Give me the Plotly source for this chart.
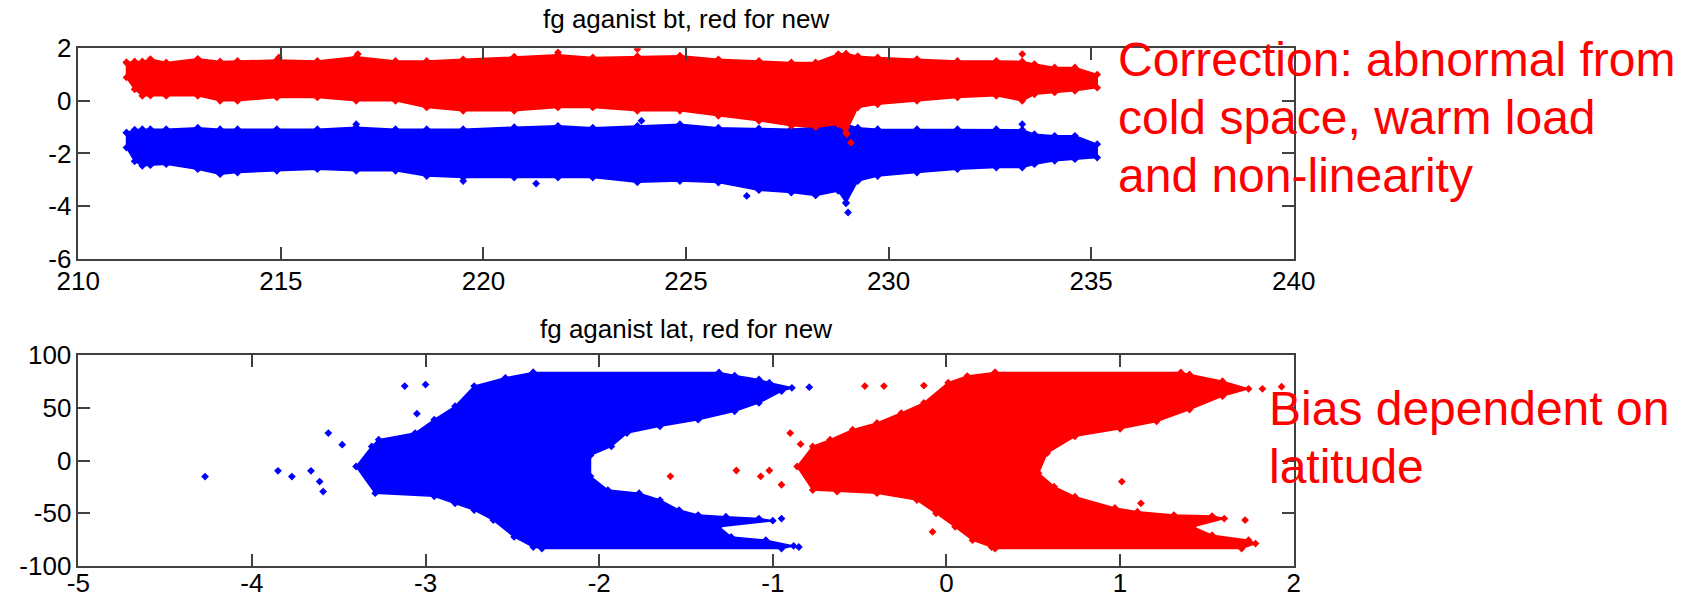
import plotly.graph_objects as go

# ---------------- top panel: fg against bt (envelopes of the point clouds) -------------
bt_x = [211.19, 211.39, 211.58, 211.78, 212.17, 212.95, 213.5, 213.93, 214.9, 215.9,
        216.86, 217.83, 218.6, 219.5, 220.76, 221.84, 222.7, 223.8, 224.85, 225.8,
        226.8, 227.6, 228.2, 228.76, 228.95, 229.24, 229.73, 230.7, 231.7, 232.66,
        233.3, 233.6, 234.1, 234.6, 235.15]
red_bt_top = [1.46, 1.5, 1.5, 1.59, 1.46, 1.6, 1.5, 1.52, 1.55, 1.52,
              1.68, 1.52, 1.52, 1.58, 1.68, 1.75, 1.65, 1.7, 1.72, 1.58,
              1.52, 1.46, 1.46, 1.78, 1.8, 1.7, 1.65, 1.59, 1.52, 1.52,
              1.5, 1.4, 1.27, 1.27, 1.0]
red_bt_bot = [0.89, 0.44, 0.19, 0.2, 0.19, 0.19, 0.0, 0.0, 0.13, 0.13,
              0.0, 0.0, -0.25, -0.38, -0.38, -0.25, -0.25, -0.38, -0.38, -0.57,
              -0.76, -0.95, -1.0, -0.89, -1.2, -0.25, -0.13, 0.0, 0.13, 0.19,
              0.0, 0.25, 0.32, 0.38, 0.5]
blue_bt_top = [-1.21, -1.1, -1.08, -1.08, -1.08, -1.02, -1.08, -1.08, -1.08, -1.08,
               -1.0, -1.08, -1.08, -1.08, -1.0, -0.95, -1.02, -0.95, -0.89, -1.02,
               -1.05, -1.08, -1.0, -0.85, -0.9, -1.02, -1.08, -1.08, -1.08, -1.08,
               -1.1, -1.27, -1.33, -1.33, -1.65]
blue_bt_bot = [-1.78, -2.3, -2.47, -2.45, -2.41, -2.6, -2.79, -2.73, -2.66, -2.6,
               -2.66, -2.66, -2.86, -2.92, -2.92, -2.92, -2.92, -3.1, -3.05, -3.11,
               -3.4, -3.49, -3.6, -3.43, -3.87, -3.05, -2.86, -2.73, -2.6, -2.54,
               -2.54, -2.41, -2.28, -2.22, -2.16]
red_bt_out_x = [223.8, 221.84, 216.9, 233.3, 228.95, 228.97, 229.07, 214.95]
red_bt_out_y = [1.97, 1.84, 1.78, 1.78, -1.02, -1.27, -1.59, 1.65]
blue_bt_out_x = [229.0, 228.95, 226.5, 219.5, 223.9, 216.86, 233.3, 221.3]
blue_bt_out_y = [-4.25, -3.9, -3.62, -3.05, -0.76, -0.89, -0.89, -3.15]

# ---------------- bottom panel: fg against lat --------------------------------------
blue_lat_x = [-2.38, -1.31, -1.22, -1.08, -1.02, -0.89, -0.95, -1.08, -1.22, -1.43,
              -1.65, -1.84, -1.93, -2.05, -2.05, -1.95, -1.77, -1.65, -1.54, -1.43,
              -1.27, -1.08, -1.0, -1.31, -1.24, -1.04, -0.88, -0.95, -2.33, -2.38,
              -2.49, -2.61, -2.72, -2.83, -2.95, -3.29, -3.4, -3.31, -3.27, -3.06,
              -2.95, -2.83, -2.72, -2.54]
blue_lat_y = [83.5, 83.5, 80.5, 76.8, 73.7, 68.9, 65.7, 54.6, 46.7, 38.7,
              32.4, 26.0, 13.3, 5.0, -15.0, -28.0, -31.0, -37.5, -47.0, -51.7,
              -53.3, -55.0, -57.0, -62.9, -72.4, -75.5, -81.0, -83.5, -83.5, -82.0,
              -72.4, -56.5, -47.0, -40.6, -34.0, -31.0, -5.7, 13.3, 19.7, 26.0,
              38.7, 51.4, 70.5, 78.4]
red_lat_x = [0.28, 1.35, 1.40, 1.59, 1.74, 1.59, 1.40, 1.21, 1.0, 0.74,
             0.58, 0.53, 0.62, 0.74, 0.97, 1.10, 1.31, 1.53, 1.6, 1.42,
             1.53, 1.74, 1.78, 1.7, 0.28, 0.26, 0.15, 0.05, -0.06, -0.17,
             -0.4, -0.63, -0.77, -0.86, -0.77, -0.67, -0.54, -0.4, -0.26, -0.13,
             0.01, 0.12]
red_lat_y = [83.5, 83.5, 81.6, 75.2, 67.9, 61.0, 48.3, 37.0, 30.0, 22.9,
             7.0, -12.0, -24.8, -34.3, -45.0, -48.6, -51.7, -52.7, -55.0, -62.9,
             -70.8, -75.6, -78.7, -83.5, -83.5, -82.0, -75.5, -62.9, -50.0, -37.5,
             -31.0, -29.5, -28.0, -5.7, 13.3, 19.7, 29.2, 35.6, 45.0, 54.6,
             73.7, 80.0]
blue_lat_out_x = [-4.27, -3.85, -3.77, -3.66, -3.56, -3.48, -3.61, -3.59, -3.12, -3.0,
                  -3.05, -0.79, -0.85, -0.95]
blue_lat_out_y = [-15.2, -9.8, -15.2, -9.8, 26.0, 15.0, -20.0, -29.5, 70.5, 72.0,
                  44.4, 69.5, -82.0, -55.0]
red_lat_out_x = [-0.9, -1.21, -1.59, -1.07, -1.02, -0.84, -0.47, -0.36, -0.13, -0.08,
                 1.82, 1.93, 1.01, 1.12, 1.72, -0.95]
red_lat_out_y = [26.0, -9.5, -15.0, -15.0, -9.5, 15.5, 70.5, 70.5, 71.0, -67.6,
                 67.9, 70.0, -20.0, -40.6, -56.5, -23.0]

# ---------------- ticks and texts ----------------------------------------------------
bt_ticks = [210, 215, 220, 225, 230, 235, 240]
fg1_ticks = [-6, -4, -2, 0, 2]
fg2_ticks = [-5, -4, -3, -2, -1, 0, 1, 2]
lat_ticks = [-100, -50, 0, 50, 100]

top_title = "fg aganist bt, red for new"
bot_title = "fg aganist lat, red for new"
note1 = ["Correction: abnormal from", "cold space, warm load", "and non-linearity"]
note2 = ["Bias dependent on", "latitude"]

RED = "#FF0000"
BLUE = "#0000FF"
W, H = 1683, 599


def cloud(x, y, color, xa, ya):
    return go.Scatter(x=x + [x[0]], y=y + [y[0]], mode="lines+markers", fill="toself",
                      fillcolor=color, line=dict(color=color, width=1.5),
                      marker=dict(symbol="diamond", size=6, color=color),
                      xaxis=xa, yaxis=ya, showlegend=False, hoverinfo="skip")


def pts(x, y, color, xa, ya):
    return go.Scatter(x=x, y=y, mode="markers",
                      marker=dict(symbol="diamond", size=6, color=color),
                      xaxis=xa, yaxis=ya, showlegend=False, hoverinfo="skip")


fig = go.Figure()
fig.add_trace(cloud(bt_x + bt_x[::-1], blue_bt_top + blue_bt_bot[::-1], BLUE, "x", "y"))
fig.add_trace(pts(blue_bt_out_x, blue_bt_out_y, BLUE, "x", "y"))
fig.add_trace(cloud(bt_x + bt_x[::-1], red_bt_top + red_bt_bot[::-1], RED, "x", "y"))
fig.add_trace(pts(red_bt_out_x, red_bt_out_y, RED, "x", "y"))
fig.add_trace(cloud(blue_lat_x, blue_lat_y, BLUE, "x2", "y2"))
fig.add_trace(pts(blue_lat_out_x, blue_lat_out_y, BLUE, "x2", "y2"))
fig.add_trace(cloud(red_lat_x, red_lat_y, RED, "x2", "y2"))
fig.add_trace(pts(red_lat_out_x, red_lat_out_y, RED, "x2", "y2"))

FONT = "Arial, 'Liberation Sans', sans-serif"
axis_common = dict(showline=True, mirror="ticks", ticks="inside", ticklen=12,
                   linecolor="#404040", linewidth=1.5, tickcolor="#404040", tickwidth=1.5,
                   showgrid=False, zeroline=False, automargin=False,
                   tickfont=dict(family=FONT, size=26, color="black"))


def labels(vals):
    return [str(v) for v in vals]


x0, x1 = 78.3 / W, 1293.7 / W
fig.update_layout(
    template="none",
    width=W, height=H,
    margin=dict(l=0, r=0, t=0, b=0, pad=0),
    paper_bgcolor="white", plot_bgcolor="white",
    font=dict(family=FONT),
    xaxis=dict(domain=[x0, x1], range=[210, 240], tickvals=bt_ticks, ticktext=labels(bt_ticks),
               anchor="y", ticklabelstandoff=-1, **axis_common),
    yaxis=dict(domain=[1 - 258.5 / H, 1 - 48.3 / H], range=[-6, 2], tickvals=fg1_ticks,
               ticktext=labels(fg1_ticks), anchor="x", **axis_common),
    xaxis2=dict(domain=[x0, x1], range=[-5, 2], tickvals=fg2_ticks, ticktext=labels(fg2_ticks),
                anchor="y2", ticklabelstandoff=-7, **axis_common),
    yaxis2=dict(domain=[1 - 566 / H, 1 - 355 / H], range=[-100, 100], tickvals=lat_ticks,
                ticktext=labels(lat_ticks), anchor="x2", **axis_common),
)

ann = []
xc = (x0 + x1) / 2
TS = 26
ann.append(dict(text=top_title, x=xc, y=1 - (28.3 - 0.3465 * TS) / H, xref="paper", yref="paper",
                xanchor="center", yanchor="middle", showarrow=False,
                font=dict(family=FONT, size=TS, color="black")))
ann.append(dict(text=bot_title, x=xc, y=1 - (338.3 - 0.3465 * TS) / H, xref="paper", yref="paper",
                xanchor="center", yanchor="middle", showarrow=False,
                font=dict(family=FONT, size=TS, color="black")))
FS = 48
for i, line in enumerate(note1):
    base = 76 + 58 * i
    ann.append(dict(text=line, x=1116 / W, y=1 - (base - 0.3465 * FS) / H, xref="paper",
                    yref="paper", xanchor="left", yanchor="middle", showarrow=False,
                    font=dict(family=FONT, size=FS, color=RED)))
for i, line in enumerate(note2):
    base = 425 + 58 * i
    ann.append(dict(text=line, x=1267 / W, y=1 - (base - 0.3465 * FS) / H, xref="paper",
                    yref="paper", xanchor="left", yanchor="middle", showarrow=False,
                    font=dict(family=FONT, size=FS, color=RED)))
fig.update_layout(annotations=ann)

fig.write_html("out.html", config={"displayModeBar": False},
               post_script="document.body.style.margin='0';")
